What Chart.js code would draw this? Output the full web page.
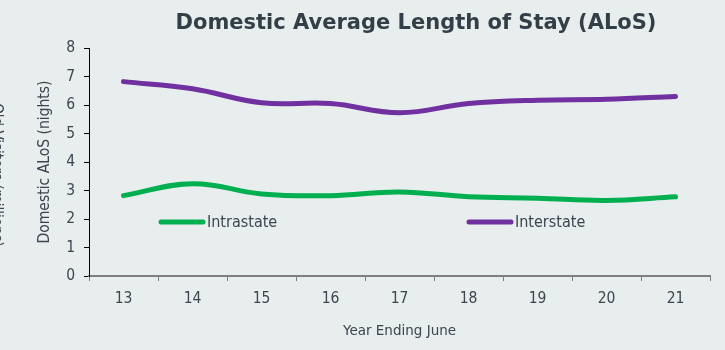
<!DOCTYPE html>
<html>
<head>
<meta charset="utf-8">
<script src="https://cdn.jsdelivr.net/npm/chart.js@4.4.1/dist/chart.umd.min.js"></script>
<style>
  html, body { margin: 0; padding: 0; background: #e8eded; }
  #wrap { width: 725px; height: 350px; }
</style>
</head>
<body>
<div id="wrap"><canvas id="alosChart" width="725" height="350"></canvas></div>
<script>
const years = ["13", "14", "15", "16", "17", "18", "19", "20", "21"];
const intrastate = [2.82, 3.24, 2.88, 2.82, 2.95, 2.78, 2.73, 2.65, 2.78];
const interstate = [6.82, 6.57, 6.08, 6.05, 5.73, 6.05, 6.17, 6.2, 6.3];
const yTicks = [0, 1, 2, 3, 4, 5, 6, 7, 8];

const fontName = "'DejaVu Sans Condensed', 'DejaVu Sans', sans-serif";
const wideFont = "'DejaVu Sans', sans-serif";
const textColor = "#3c4650";
const green = "#00b050";
const purple = "#7030a0";

// title, stray cut-off axis title on the left and the in-plot legend
const extrasPlugin = {
  id: "extras",
  afterDraw(chart) {
    const ctx = chart.ctx;
    const area = chart.chartArea;
    ctx.save();

    ctx.fillStyle = "#333f48";
    ctx.font = "bold 21px " + wideFont;
    ctx.textAlign = "center";
    ctx.textBaseline = "middle";
    ctx.fillText("Domestic Average Length of Stay (ALoS)", 416, 24);

    ctx.save();
    ctx.translate(-4, 175);
    ctx.rotate(Math.PI / 2);
    ctx.font = "15px " + fontName;
    ctx.fillStyle = textColor;
    ctx.fillText("Old Visitors (millions)", 0, 0);
    ctx.restore();

    const legendY = 222;
    const items = [
      { label: "Intrastate", color: green, x: area.left + 72 },
      { label: "Interstate", color: purple, x: area.left + 380 }
    ];
    ctx.lineCap = "round";
    ctx.lineWidth = 5;
    ctx.font = "16px " + fontName;
    ctx.textAlign = "left";
    items.forEach(item => {
      ctx.strokeStyle = item.color;
      ctx.beginPath();
      ctx.moveTo(item.x, legendY);
      ctx.lineTo(item.x + 42, legendY);
      ctx.stroke();
      ctx.fillStyle = textColor;
      ctx.fillText(item.label, item.x + 46, legendY + 1);
    });
    ctx.restore();
  }
};

new Chart(document.getElementById("alosChart"), {
  type: "line",
  data: {
    labels: years,
    datasets: [
      {
        label: "Intrastate",
        data: intrastate,
        borderColor: green,
        backgroundColor: green,
        borderWidth: 5,
        borderCapStyle: "round",
        pointRadius: 0,
        tension: 0.4
      },
      {
        label: "Interstate",
        data: interstate,
        borderColor: purple,
        backgroundColor: purple,
        borderWidth: 5,
        borderCapStyle: "round",
        pointRadius: 0,
        tension: 0.4
      }
    ]
  },
  options: {
    responsive: false,
    animation: false,
    layout: { padding: { left: 30, right: 15, top: 48, bottom: 0 } },
    plugins: {
      legend: { display: false },
      title: { display: false },
      tooltip: { enabled: false }
    },
    scales: {
      x: {
        offset: true,
        grid: {
          offset: true,
          drawOnChartArea: false,
          drawTicks: true,
          tickLength: 5,
          color: "#7f7f7f"
        },
        border: { color: "#7f7f7f", width: 2 },
        ticks: {
          color: textColor,
          font: { family: fontName, size: 15.5 },
          padding: 9,
          maxRotation: 0
        },
        title: {
          display: true,
          text: "Year Ending June",
          color: textColor,
          font: { family: wideFont, size: 13.5 },
          padding: { top: 0, bottom: 10 }
        },
        afterFit(scale) { scale.height = 74; }
      },
      y: {
        min: 0,
        max: 8,
        afterBuildTicks(scale) { scale.ticks = yTicks.map(v => ({ value: v })); },
        grid: {
          drawOnChartArea: false,
          drawTicks: true,
          tickLength: 5,
          color: "#000000"
        },
        border: { color: "#000000", width: 1 },
        ticks: {
          color: textColor,
          font: { family: fontName, size: 15.5 },
          padding: 9
        },
        title: {
          display: true,
          text: "Domestic ALoS (nights)",
          color: textColor,
          font: { family: fontName, size: 15.5 },
          padding: { top: 6, bottom: 0 }
        },
        afterFit(scale) { scale.width = 59; }
      }
    }
  },
  plugins: [extrasPlugin]
});
</script>
</body>
</html>
